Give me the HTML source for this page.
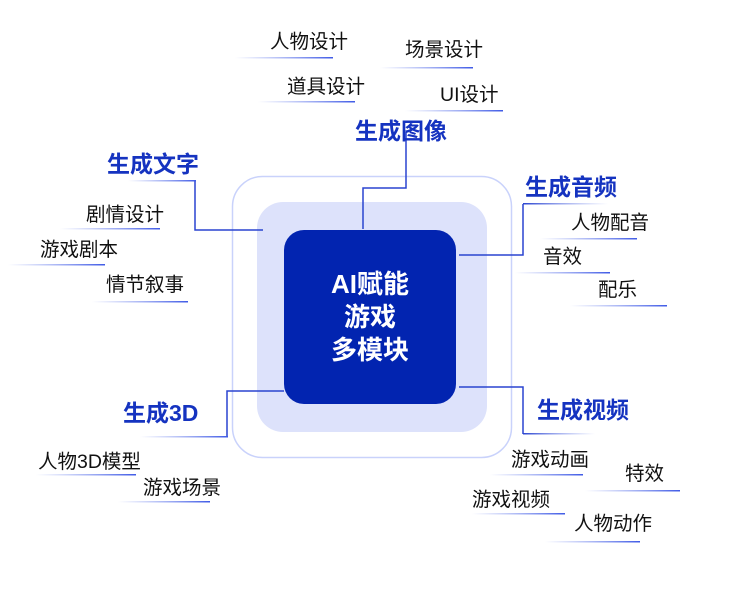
<!DOCTYPE html>
<html><head><meta charset="utf-8"><style>
html,body{margin:0;padding:0;background:#fff;}
#c{position:relative;width:750px;height:602px;overflow:hidden;font-family:"Liberation Sans","Noto Sans CJK SC",sans-serif;}
.t{position:absolute;font-size:19.5px;line-height:20px;color:#111;white-space:nowrap;}
.h{position:absolute;font-size:23px;line-height:23px;color:#1533c0;font-weight:bold;white-space:nowrap;}
.ctr{position:absolute;left:284px;top:230px;width:172px;height:174px;color:#fff;font-weight:bold;font-size:26px;line-height:33px;text-align:center;display:flex;align-items:center;justify-content:center;}
</style></head><body><div id="c">
<svg width="750" height="602" style="position:absolute;left:0;top:0">
<defs>
<linearGradient id="g" x1="0" x2="1" y1="0" y2="0"><stop offset="0" stop-color="#6f84ee" stop-opacity="0"/><stop offset="1" stop-color="#3f5ae6"/></linearGradient>
<linearGradient id="gr" x1="0" x2="1" y1="0" y2="0"><stop offset="0" stop-color="#2a44d0"/><stop offset="1" stop-color="#6f84ee" stop-opacity="0"/></linearGradient>
</defs>
<rect x="232.5" y="176.5" width="279" height="281" rx="30" fill="#fff" stroke="#c9d2fb" stroke-width="1.5"/>
<rect x="257" y="202" width="230" height="230" rx="26" fill="#dde2fb"/>
<rect x="284" y="230" width="172" height="174" rx="20" fill="#0224b0"/>
<g fill="none" stroke="#2a44d0" stroke-width="1.5">
<polyline points="406,132 406,188 363,188 363,229"/>
<polyline points="195,181 195,230 263,230"/>
<polyline points="459,255 523,255 523,204"/>
<polyline points="459,387 523,387 523,434"/>
<polyline points="284,391 227,391 227,437"/>
</g>
<rect x="128" y="180" width="68" height="1.5" fill="url(#g)"/>
<rect x="523" y="203" width="85" height="1.5" fill="url(#gr)"/>
<rect x="523" y="433" width="72" height="1.5" fill="url(#gr)"/>
<rect x="140" y="436" width="88" height="1.5" fill="url(#g)"/>
<g>
<rect x="235" y="57" width="98" height="1.5" fill="url(#g)"/>
<rect x="380" y="67" width="93" height="1.5" fill="url(#g)"/>
<rect x="258" y="101" width="97" height="1.5" fill="url(#g)"/>
<rect x="405" y="110" width="98" height="1.5" fill="url(#g)"/>
<rect x="60" y="228" width="100" height="1.5" fill="url(#g)"/>
<rect x="8" y="264" width="97" height="1.5" fill="url(#g)"/>
<rect x="92" y="301" width="96" height="1.5" fill="url(#g)"/>
<rect x="540" y="238" width="97" height="1.5" fill="url(#g)"/>
<rect x="515" y="272" width="95" height="1.5" fill="url(#g)"/>
<rect x="570" y="305" width="97" height="1.5" fill="url(#g)"/>
<rect x="36" y="474" width="100" height="1.5" fill="url(#g)"/>
<rect x="118" y="501" width="92" height="1.5" fill="url(#g)"/>
<rect x="490" y="474" width="93" height="1.5" fill="url(#g)"/>
<rect x="585" y="490" width="95" height="1.5" fill="url(#g)"/>
<rect x="472" y="513" width="93" height="1.5" fill="url(#g)"/>
<rect x="545" y="541" width="95" height="1.5" fill="url(#g)"/>
</g>
</svg>
<div class="ctr"><div>AI赋能<br>游戏<br>多模块</div></div>
<div class="h" style="left:355px;top:120px">生成图像</div>
<div class="h" style="left:107px;top:153px">生成文字</div>
<div class="h" style="left:525px;top:176px">生成音频</div>
<div class="h" style="left:537px;top:399px">生成视频</div>
<div class="h" style="left:123px;top:402px">生成3D</div>
<div class="t" style="left:270px;top:32px">人物设计</div>
<div class="t" style="left:405px;top:40px">场景设计</div>
<div class="t" style="left:287px;top:77px">道具设计</div>
<div class="t" style="left:440px;top:85px">UI设计</div>
<div class="t" style="left:86px;top:205px">剧情设计</div>
<div class="t" style="left:40px;top:240px">游戏剧本</div>
<div class="t" style="left:106px;top:275px">情节叙事</div>
<div class="t" style="left:571px;top:213px">人物配音</div>
<div class="t" style="left:543px;top:247px">音效</div>
<div class="t" style="left:598px;top:280px">配乐</div>
<div class="t" style="left:38px;top:452px">人物3D模型</div>
<div class="t" style="left:143px;top:478px">游戏场景</div>
<div class="t" style="left:511px;top:450px">游戏动画</div>
<div class="t" style="left:625px;top:464px">特效</div>
<div class="t" style="left:472px;top:490px">游戏视频</div>
<div class="t" style="left:574px;top:514px">人物动作</div>
</div></body></html>
